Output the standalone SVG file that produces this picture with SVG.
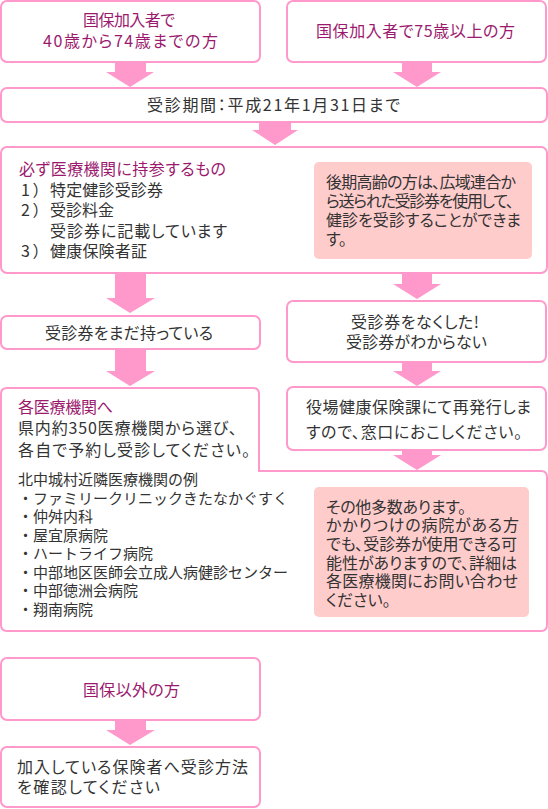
<svg xmlns="http://www.w3.org/2000/svg" width="548" height="809" viewBox="0 0 548 809">
<style>
text{font-family:"Noto Sans CJK JP","Noto Sans",sans-serif;font-size:16px;fill:#333;font-feature-settings:"palt";}
.m{fill:#9b1a6e;}
.c{text-anchor:middle;}
.s{font-size:15px;font-feature-settings:normal;}
.box{fill:#fff;stroke:#ff99cc;stroke-width:2;}
.note{fill:#ffcccc;}
.arr{fill:#ff99cc;}
</style>
<rect width="548" height="809" fill="#fff"/>
<g id="connectors">
<polygon class="arr" points="115,62 146,62 146,72 154,72 130,87 106,72 115,72"/>
<polygon class="arr" points="402,62 432,62 432,72 441,72 417,87 393,72 402,72"/>
<polygon class="arr" points="259,122 291,122 291,130 298,130 275,145 252,130 259,130"/>
<polygon class="arr" points="115,273 146,273 146,298 155,298 130,313 106,298 115,298"/>
<polygon class="arr" points="402,273 432,273 432,284 441,284 417,299 393,284 402,284"/>
<polygon class="arr" points="115,349 146,349 146,371 155,371 130,386 106,371 115,371"/>
<polygon class="arr" points="402,362 432,362 432,371 441,371 417,386 393,371 402,371"/>
<polygon class="arr" points="402,450 432,450 432,455 441,455 417,470 393,455 402,455"/>
<polygon class="arr" points="115,720 146,720 146,730 155,730 130,745 106,730 115,730"/>
</g>
<g id="n1">
<rect class="box" x="1" y="1" width="259" height="61" rx="6"/>
<text class="m c" x="129" y="26" textLength="92">国保加入者で</text>
<text class="m c" x="130.5" y="47" textLength="175">40歳から74歳までの方</text>
</g>
<g id="n2">
<rect class="box" x="287" y="1" width="259" height="61" rx="6"/>
<text class="m c" x="415.5" y="37" textLength="199">国保加入者で75歳以上の方</text>
</g>
<g id="n3">
<rect class="box" x="1" y="88" width="546" height="34" rx="6"/>
<text class="c" x="273.5" y="111" textLength="253">受診期間：平成21年1月31日まで</text>
</g>
<g id="n4">
<rect class="box" x="1" y="147" width="546" height="126" rx="6"/>
<text class="m" x="19" y="175" textLength="207">必ず医療機関に持参するもの</text>
<text x="21" y="196">1</text><text x="33" y="196">）</text><text x="50" y="196" textLength="113">特定健診受診券</text>
<text x="21" y="216">2</text><text x="33" y="216">）</text><text x="50" y="216" textLength="64">受診料金</text>
<text x="50" y="237" textLength="177">受診券に記載しています</text>
<text x="21" y="257">3</text><text x="33" y="257">）</text><text x="50" y="257" textLength="97">健康保険者証</text>
<rect class="note" x="314" y="162" width="218" height="97" rx="5"/>
<text x="326" y="188" textLength="190">後期高齢の方は、広域連合か</text>
<text x="326" y="207" textLength="188">ら送られた受診券を使用して、</text>
<text x="326" y="226" textLength="195">健診を受診することができま</text>
<text x="326" y="245">す。</text>
</g>
<g id="n5">
<rect class="box" x="1" y="316" width="259" height="33" rx="6"/>
<text class="c" x="129" y="339" textLength="168">受診券をまだ持っている</text>
</g>
<g id="n6">
<rect class="box" x="287" y="301" width="259" height="61" rx="6"/>
<text class="c" x="415" y="328" textLength="128">受診券をなくした!</text>
<text class="c" x="416.5" y="348" textLength="141">受診券がわからない</text>
</g>
<g id="n7">
<rect class="box" x="287" y="387" width="259" height="63" rx="6"/>
<text x="306" y="413" textLength="225">役場健康保険課にて再発行しま</text>
<text x="306" y="438" textLength="216">すので、窓口におこしください。</text>
</g>
<g id="n8">
<path class="box" d="M1,394 Q1,388 7,388 H253 Q259,388 259,394 V471 H541 Q547,471 547,477 V625 Q547,631 541,631 H7 Q1,631 1,625 Z"/>
<text class="m" x="18" y="413" textLength="95">各医療機関へ</text>
<text x="18" y="434" textLength="219">県内約350医療機関から選び、</text>
<text x="18" y="456" textLength="232">各自で予約し受診してください。</text>
<text class="s" x="18" y="485">北中城村近隣医療機関の例</text>
<text class="s" x="18" y="503.5">・ファミリークリニックきたなかぐすく</text>
<text class="s" x="18" y="522">・仲舛内科</text>
<text class="s" x="18" y="540.5">・屋宜原病院</text>
<text class="s" x="18" y="559">・ハートライフ病院</text>
<text class="s" x="18" y="577.5">・中部地区医師会立成人病健診センター</text>
<text class="s" x="18" y="596">・中部徳洲会病院</text>
<text class="s" x="18" y="614.5">・翔南病院</text>
<rect class="note" x="314" y="487" width="215" height="130" rx="5"/>
<text x="326" y="513" textLength="140">その他多数あります。</text>
<text x="326" y="531" textLength="193">かかりつけの病院がある方</text>
<text x="326" y="550" textLength="191">でも、受診券が使用できる可</text>
<text x="326" y="569" textLength="191">能性がありますので、詳細は</text>
<text x="326" y="587" textLength="192">各医療機関にお問い合わせ</text>
<text x="326" y="606">ください。</text>
</g>
<g id="n9">
<rect class="box" x="1" y="658" width="259" height="62" rx="6"/>
<text class="m c" x="131.5" y="696" textLength="97">国保以外の方</text>
</g>
<g id="n10">
<rect class="box" x="1" y="747" width="259" height="60" rx="6"/>
<text x="17" y="773" textLength="231">加入している保険者へ受診方法</text>
<text x="17" y="793" textLength="143">を確認してください</text>
</g>
</svg>
